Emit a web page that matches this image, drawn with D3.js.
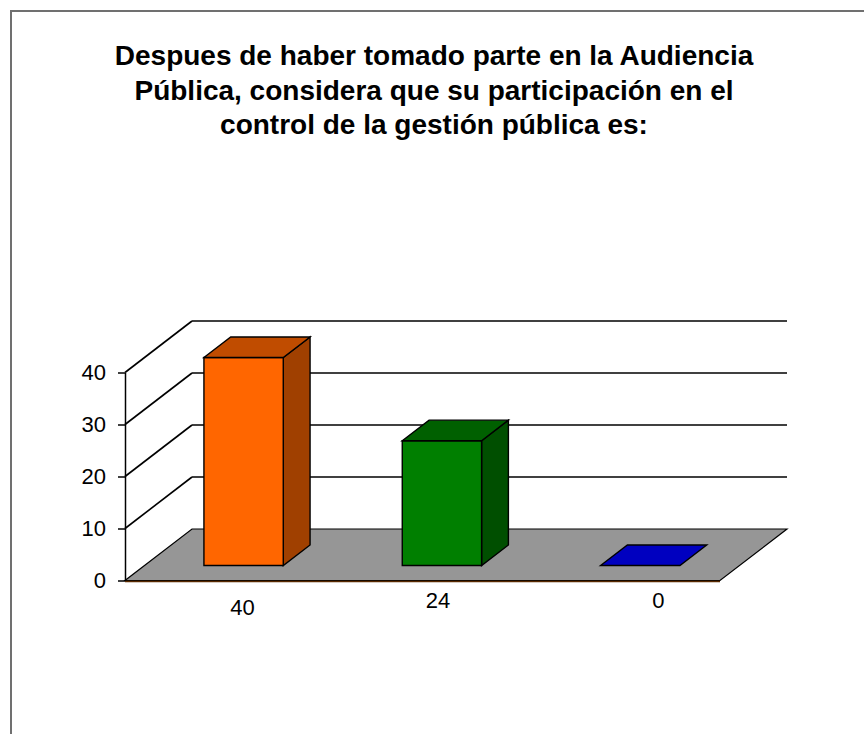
<!DOCTYPE html>
<html>
<head>
<meta charset="utf-8">
<script src="https://cdn.jsdelivr.net/npm/d3@7"></script>
<style>
  body { margin: 0; background: #fff; }
  svg { display: block; font-family: "Liberation Sans", Arial, sans-serif; }
</style>
</head>
<body>
<svg width="864" height="734"></svg>
<script>
// data
var categories = ['40', '24', '0']
var values = [40, 24, 0]
var yTicks = [0, 10, 20, 30, 40]
var titleLines = [
	'Despues de haber tomado parte en la Audiencia',
	'Pública, considera que su participación en el',
	'control de la gestión pública es:'
]
var faceColors = [
	{front: '#ff6600', top: '#c04c00', side: '#a04000'},
	{front: '#007f00', top: '#006000', side: '#004f00'},
	{front: '#0000c0', top: '#0000c0', side: '#000090'}
]

var svg = d3.select('svg')

// layout of the fake 3d box
var left = 125, right = 720, base = 580.5, yTop = 372.5
var depthX = 67, depthY = 51.5
var d1 = 0.29, d2 = 0.69   // bar front / back depth
var labelShift = [-1, -4, 18]
var labelY = [615, 608, 608]

var x = d3.scaleBand().domain(categories).range([0, right - left])
	.paddingInner(0.6).paddingOuter(0.3)
var y = d3.scaleLinear().domain([0, 40]).range([base, yTop])

// project a point (px along x, value v, depth d) to the screen
function pt(px, v, d) {
	return [left + px + d * depthX, y(v) - d * depthY]
}
function poly(points) {
	return 'M' + points.map(function(p) {return p.join(',')}).join('L') + 'Z'
}

// frame
svg.append('rect')
	.attr('x', 11).attr('y', 11)
	.attr('width', 900).attr('height', 800)
	.attr('fill', 'none')
	.attr('stroke', '#707070')
	.attr('stroke-width', 2)

// title
svg.append('text')
	.attr('x', 434)
	.attr('text-anchor', 'middle')
	.attr('font-weight', 'bold')
	.attr('font-size', 28)
	.selectAll('tspan')
	.data(titleLines)
	.enter().append('tspan')
	.attr('x', 434)
	.attr('y', function(d, i) {return 65 + i * 34.5})
	.text(function(d) {return d})

// walls: diagonals on the side wall and gridlines on the back wall
var wall = svg.append('g').attr('class', 'walls')
wall.selectAll('line.diag')
	.data(yTicks.slice(1))
	.enter().append('line')
	.attr('class', 'diag')
	.attr('x1', function(t) {return pt(0, t, 0)[0]})
	.attr('y1', function(t) {return pt(0, t, 0)[1]})
	.attr('x2', function(t) {return pt(0, t, 1)[0]})
	.attr('y2', function(t) {return pt(0, t, 1)[1]})
	.attr('stroke', '#000')
	.attr('stroke-width', 1.6)
wall.selectAll('line.grid')
	.data(yTicks.slice(1))
	.enter().append('line')
	.attr('class', 'grid')
	.attr('x1', function(t) {return pt(0, t, 1)[0]})
	.attr('y1', function(t) {return pt(0, t, 1)[1]})
	.attr('x2', function(t) {return pt(right - left, t, 1)[0]})
	.attr('y2', function(t) {return pt(right - left, t, 1)[1]})
	.attr('stroke', '#000')
	.attr('stroke-width', 1.6)

// floor
var w = right - left
svg.append('path')
	.attr('d', poly([pt(0, 0, 0), pt(w, 0, 0), pt(w, 0, 1), pt(0, 0, 1)]))
	.attr('fill', '#969696')
	.attr('stroke', '#000')
	.attr('stroke-width', 1.2)
svg.append('line')
	.attr('x1', left).attr('x2', right)
	.attr('y1', base + 1).attr('y2', base + 1)
	.attr('stroke', '#5a2a00')
	.attr('stroke-width', 1.3)

// bars
var bars = svg.append('g').attr('class', 'bars')
	.selectAll('g')
	.data(values)
	.enter().append('g')

bars.each(function(v, i) {
	var g = d3.select(this)
	var x0 = x(categories[i]), x1 = x0 + x.bandwidth()
	var c = faceColors[i]
	if (v > 0) {
		g.append('path')
			.attr('d', poly([pt(x1, 0, d1), pt(x1, v, d1), pt(x1, v, d2), pt(x1, 0, d2)]))
			.attr('fill', c.side).attr('stroke', '#000').attr('stroke-width', 1.4)
		g.append('path')
			.attr('d', poly([pt(x0, 0, d1), pt(x1, 0, d1), pt(x1, v, d1), pt(x0, v, d1)]))
			.attr('fill', c.front).attr('stroke', '#000').attr('stroke-width', 1.4)
	}
	g.append('path')
		.attr('d', poly([pt(x0, v, d1), pt(x1, v, d1), pt(x1, v, d2), pt(x0, v, d2)]))
		.attr('fill', c.top).attr('stroke', '#000').attr('stroke-width', 1.4)
})

// value axis
var axis = svg.append('g')
	.attr('transform', 'translate(' + left + ',0)')
	.call(d3.axisLeft(y).tickValues(yTicks).tickSize(7).tickSizeOuter(0).tickPadding(12))
axis.select('.domain').attr('stroke', '#000').attr('stroke-width', 1.5)
axis.selectAll('.tick line').attr('stroke', '#000').attr('stroke-width', 1.5)
axis.selectAll('.tick text')
	.attr('font-family', '"Liberation Sans", Arial, sans-serif')
	.attr('font-size', 22)
	.attr('fill', '#000')

// category labels
svg.append('g').attr('class', 'labels')
	.selectAll('text')
	.data(categories)
	.enter().append('text')
	.attr('x', function(d, i) {return pt(x(d) + x.bandwidth() / 2, 0, d1)[0] + labelShift[i]})
	.attr('y', function(d, i) {return labelY[i]})
	.attr('text-anchor', 'middle')
	.attr('font-size', 22)
	.text(function(d) {return d})
</script>
</body>
</html>
